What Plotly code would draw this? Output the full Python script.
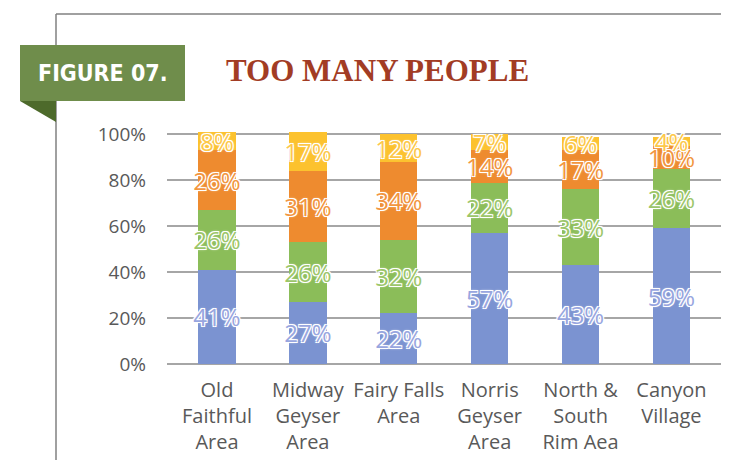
import plotly.graph_objects as go

# ---- data -------------------------------------------------------------
areas = [
    "Old<br>Faithful<br>Area",
    "Midway<br>Geyser<br>Area",
    "Fairy Falls<br>Area<br> ",
    "Norris<br>Geyser<br>Area",
    "North &<br>South<br>Rim Aea",
    "Canyon<br>Village<br> ",
]
series_names = ["Series 1", "Series 2", "Series 3", "Series 4"]
s1 = [41, 27, 22, 57, 43, 59]
s2 = [26, 26, 32, 22, 33, 26]
s3 = [26, 31, 34, 14, 17, 10]
s4 = [8, 17, 12, 7, 6, 4]
y_ticks = [0, 20, 40, 60, 80, 100]

BAR_CLR = ["#7b93d1", "#8bbd59", "#ee8b2f", "#fcc22e"]
LBL_CLR = ["#98a6df", "#9cc66a", "#f2963f", "#fdc84a"]
HALO = ("-1px -1px 0 #fff, 1px -1px 0 #fff, -1px 1px 0 #fff, 1px 1px 0 #fff,"
        " 0 0 3px #fff")
GRID = "#a6a6a6"
FRAME = "#808080"

W, H = 729, 460
L, R, T, B = 159, 718, 124, 356   # plot area in pixels
Y_MAX = 101                       # a few stacks round up to 101 %


def px(x):
    return (x - L) / (R - L)


def py(y):
    return (B - y) / (B - T)


fig = go.Figure()
for name, vals, bc, lc in zip(series_names, [s1, s2, s3, s4], BAR_CLR, LBL_CLR):
    fig.add_trace(go.Bar(
        x=areas, y=vals, name=name,
        marker=dict(color=bc, line_width=0),
        text=[f"{v}%" for v in vals],
        textposition="inside", insidetextanchor="middle",
        textangle=0, constraintext="none",
        textfont=dict(family="Open Sans", size=24, color=lc, shadow=HALO),
        cliponaxis=False,
        hovertemplate="%{x}: %{y}%<extra></extra>",
    ))

# frame lines
fig.add_shape(type="line", xref="paper", yref="paper",
              x0=px(48), y0=py(6), x1=px(718), y1=py(6),
              line=dict(color=FRAME, width=1.5), layer="below")
fig.add_shape(type="line", xref="paper", yref="paper",
              x0=px(48), y0=py(6), x1=px(48), y1=py(462),
              line=dict(color=FRAME, width=1.5), layer="below")

# green figure tag + fold
fig.add_shape(type="rect", xref="paper", yref="paper",
              x0=px(12), y0=py(37), x1=px(177), y1=py(93),
              fillcolor="#6f8d4b", line_width=0, layer="above")
fig.add_shape(type="path", xref="paper", yref="paper",
              path=f"M {px(12)},{py(93)} L {px(48)},{py(93)} L {px(48)},{py(114)} Z",
              fillcolor="#4d6a2b", line_width=0, layer="above")

fig.add_annotation(text="<b>FIGURE 07.</b>", xref="paper", yref="paper",
                   x=px(95), y=py(65), showarrow=False,
                   xanchor="center", yanchor="middle",
                   font=dict(family="DejaVu Sans Condensed, Open Sans", size=23,
                             color="#ffffff"))
fig.add_annotation(text="<b>TOO MANY PEOPLE</b>", xref="paper", yref="paper",
                   x=px(216), y=py(63), showarrow=False,
                   xanchor="left", yanchor="middle",
                   font=dict(family="Liberation Serif", size=31, color="#a23c24"))

fig.update_layout(
    width=W, height=H,
    barmode="stack", bargap=0.59,
    showlegend=False,
    paper_bgcolor="#ffffff", plot_bgcolor="#ffffff",
    margin=dict(l=L, r=W - R, t=T, b=H - B, pad=0),
    font=dict(family="Open Sans", color="#595959"),
    xaxis=dict(range=[-0.55, 5.6], showgrid=False, zeroline=False,
               showline=False, ticks="",
               tickfont=dict(family="Open Sans", size=20, color="#595959"),
               ticklabelstandoff=12),
    yaxis=dict(range=[0, Y_MAX], tickmode="array", tickvals=y_ticks,
               ticktext=[f"{v}%" for v in y_ticks],
               showgrid=True, gridcolor=GRID, gridwidth=1.5,
               zeroline=True, zerolinecolor=GRID, zerolinewidth=1.5,
               showline=False, ticks="",
               tickfont=dict(family="Open Sans", size=19, color="#595959"),
               ticklabelstandoff=20),
)

fig.write_html("out.html")
